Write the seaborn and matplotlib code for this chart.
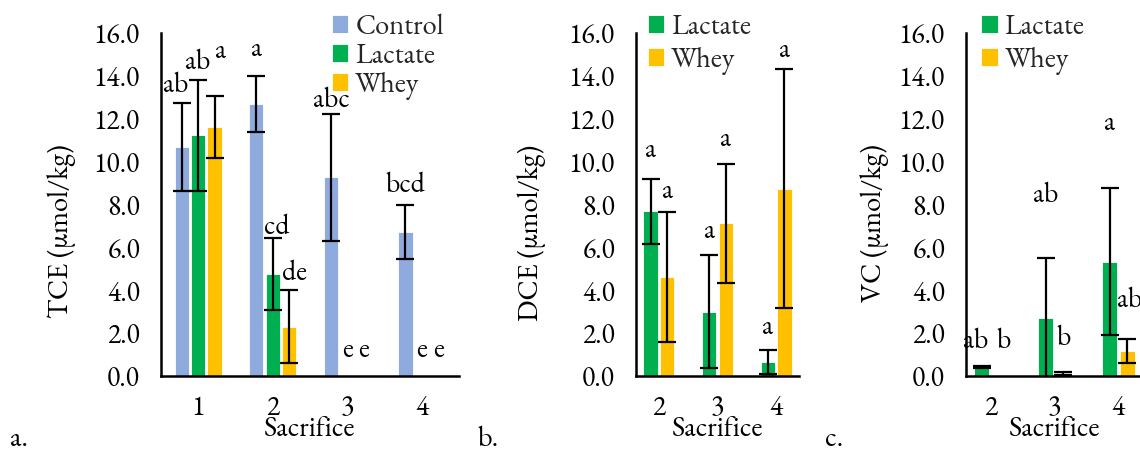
import pandas as pd
import matplotlib
matplotlib.use("Agg")
import matplotlib.pyplot as plt
import seaborn as sns

sns.set_theme(style="white")
plt.rcParams["font.family"] = ["EB Garamond", "Cardo", "DejaVu Serif"]

colors = {"Control": "#8FAADC", "Lactate": "#00B050", "Whey": "#FFC000"}

# ---- a. TCE ----
tce_sacrifice = ["1", "2", "3", "4"]
tce_control = [10.7, 12.7, 9.27, 6.71]
tce_control_err = [2.05, 1.3, 2.95, 1.27]
tce_lactate = [11.23, 4.75, 0.05, 0.02]
tce_lactate_err = [2.6, 1.68, 0.0, 0.0]
tce_whey = [11.6, 2.3, 0.03, 0.02]
tce_whey_err = [1.44, 1.7, 0.0, 0.0]
tce_letters_control = ["ab", "a", "abc", "bcd"]
tce_letters_lactate = ["ab", "cd", "e", "e"]
tce_letters_whey = ["a", "de", "e", "e"]

# ---- b. DCE ----
dce_sacrifice = ["2", "3", "4"]
dce_lactate = [7.68, 2.99, 0.65]
dce_lactate_err = [1.52, 2.64, 0.58]
dce_whey = [4.61, 7.13, 8.74]
dce_whey_err = [3.03, 2.78, 5.57]
dce_letters_lactate = ["a", "a", "a"]
dce_letters_whey = ["a", "a", "a"]

# ---- c. VC ----
vc_sacrifice = ["2", "3", "4"]
vc_lactate = [0.43, 2.69, 5.34]
vc_lactate_err = [0.04, 2.8, 3.42]
vc_whey = [0.03, 0.12, 1.17]
vc_whey_err = [0.0, 0.08, 0.56]
vc_letters_lactate = ["ab", "ab", "a"]
vc_letters_whey = ["b", "b", "ab"]

# letter placement: rise above the upper whisker (data units) and sideways nudge (points)
tce_rise = [[0.8, 1.2, 0.6, 0.9], [0.8, 0.5, 1.15, 1.18], [2.1, 0.8, 1.17, 1.18]]
tce_nudge = [[-4, 0, 0, 0], [0, 3, 0, 0], [4, 4, 0, 0]]
dce_rise = [[1.3, 1.1, 1.0], [0.94, 1.13, 0.88]]
dce_nudge = [[0, 0, 0], [0, 0, 0]]
vc_rise = [[1.15, 2.9, 3.0], [1.57, 1.56, 1.8]]
vc_nudge = [[-4, 0, 0], [3, 0, 1.5]]

TICK_FS = 20
LABEL_FS = 20.5
LETTER_FS = 20

W, H = 1140, 453
fig = plt.figure(figsize=(W / 100, H / 100), dpi=100)


def px_axes(left, right, y0, y16):
    return fig.add_axes([left / W, 1 - y0 / H, (right - left) / W, (y0 - y16) / H])


def draw_panel(ax, cats, series, width, rises, nudges, ylabel, ylab_x, ylab_y,
               leg_x, leg_spacing):
    names = [s[0] for s in series]
    df = pd.concat([
        pd.DataFrame({"Sacrifice": cats, "Treatment": name, "value": vals})
        for name, vals, _, _ in series
    ])
    sns.barplot(data=df, x="Sacrifice", y="value", hue="Treatment",
                order=cats, hue_order=names,
                palette=[colors[n] for n in names], saturation=1,
                width=width, gap=0.13, errorbar=None, ax=ax,
                edgecolor="white", linewidth=0.6)
    for container, (name, vals, errs, letters), rise, nudge in zip(
            ax.containers, series, rises, nudges):
        xs = [b.get_x() + b.get_width() / 2 for b in container]
        ex = [x for x, e in zip(xs, errs) if e > 0]
        ey = [v for v, e in zip(vals, errs) if e > 0]
        ee = [e for e in errs if e > 0]
        ax.errorbar(ex, ey, yerr=ee, fmt="none", ecolor="black",
                    elinewidth=1.6, capsize=6.5, capthick=1.6, zorder=3)
        for x, v, e, letter, r, dx in zip(xs, vals, errs, letters, rise, nudge):
            ax.annotate(letter, (x, v + e + r), xytext=(dx, 0),
                        textcoords="offset points", ha="center", va="center",
                        fontsize=LETTER_FS, color="black", annotation_clip=False)

    ax.set_ylim(0, 16)
    ax.set_yticks(range(0, 17, 2))
    ax.set_yticklabels([f"{t:.1f}" for t in range(0, 17, 2)])
    ax.tick_params(axis="both", length=0, labelsize=TICK_FS, colors="black")
    ax.tick_params(axis="y", pad=15)
    ax.tick_params(axis="x", pad=13)
    for side in ("top", "right"):
        ax.spines[side].set_visible(False)
    for side in ("left", "bottom"):
        ax.spines[side].set_color("black")
        ax.spines[side].set_linewidth(1.8)
    ax.set_xlabel("Sacrifice", fontsize=LABEL_FS, va="center", color="black")
    ax.xaxis.set_label_coords(0.5, -0.157)
    ax.set_ylabel(ylabel, fontsize=LABEL_FS, va="center", color="black")
    ax.yaxis.set_label_coords(ylab_x, ylab_y)

    ax.legend(loc="upper left", bbox_to_anchor=(leg_x / W, 0.97),
              bbox_transform=fig.transFigure, frameon=False, fontsize=LABEL_FS,
              handlelength=0.58, handleheight=0.58, handletextpad=0.25,
              borderpad=0, borderaxespad=0, labelspacing=leg_spacing)


ax_a = px_axes(161, 459, 376, 33)
draw_panel(ax_a, tce_sacrifice,
           [("Control", tce_control, tce_control_err, tce_letters_control),
            ("Lactate", tce_lactate, tce_lactate_err, tce_letters_lactate),
            ("Whey", tce_whey, tce_whey_err, tce_letters_whey)],
           0.66, tce_rise, tce_nudge, "TCE (µmol/kg)", -0.332, 0.423,
           331.7, 0.02)

ax_b = px_axes(636, 799, 376, 33)
draw_panel(ax_b, dce_sacrifice,
           [("Lactate", dce_lactate, dce_lactate_err, dce_letters_lactate),
            ("Whey", dce_whey, dce_whey_err, dce_letters_whey)],
           0.56, dce_rise, dce_nudge, "DCE (µmol/kg)", -0.638, 0.417,
           647.7, 0.15)

ax_c = px_axes(966, 1143, 376, 33)
draw_panel(ax_c, vc_sacrifice,
           [("Lactate", vc_lactate, vc_lactate_err, vc_letters_lactate),
            ("Whey", vc_whey, vc_whey_err, vc_letters_whey)],
           0.55, vc_rise, vc_nudge, "VC (µmol/kg)", -0.514, 0.447,
           981, 0.15)

for tag, x in (("a.", 10), ("b.", 478), ("c.", 825)):
    fig.text(x / W, 1 - 440 / H, tag, ha="left", va="center",
             fontsize=LABEL_FS, color="black")

fig.savefig("out.png", dpi=100, facecolor="white")
